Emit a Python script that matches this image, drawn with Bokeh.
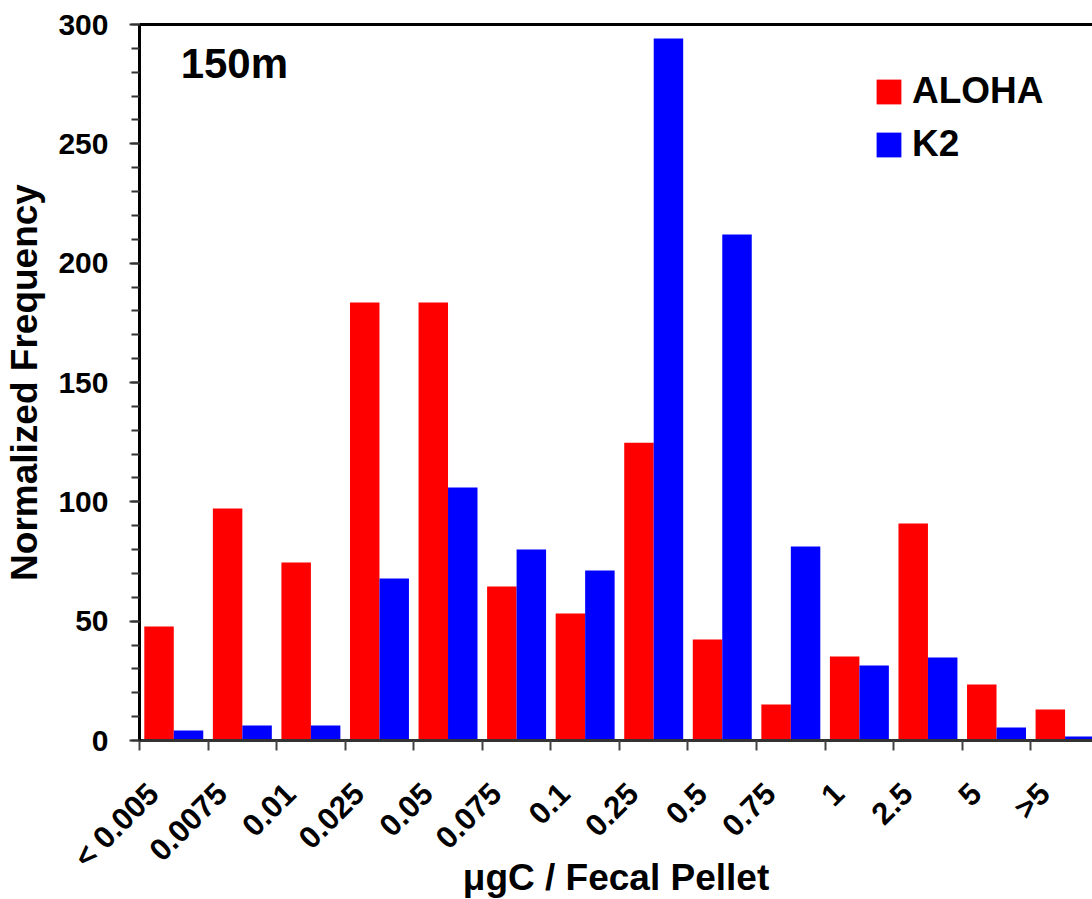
from bokeh.plotting import figure
from bokeh.models import (Range1d, FixedTicker, LinearAxis, Legend, LegendItem,
                          Label, ColumnDataSource)
from bokeh.embed import file_html
from bokeh.resources import INLINE

# ---- data ----
categories = ["< 0.005", "0.0075", "0.01", "0.025", "0.05", "0.075", "0.1",
              "0.25", "0.5", "0.75", "1", "2.5", "5", ">5"]
aloha = [47.8, 97.2, 74.6, 183.5, 183.5, 64.5, 53.2, 124.8, 42.3, 15.1, 35.2, 90.9, 23.5, 13.0]
k2 = [4.2, 6.3, 6.3, 67.9, 106.0, 80.0, 71.2, 294.1, 212.0, 81.3, 31.4, 34.8, 5.4, 1.7]
series_names = ["ALOHA", "K2"]
series_colors = ["#FF0000", "#0000FF"]
y_ticks = [0, 50, 100, 150, 200, 250, 300]
panel_label = "150m"
x_title = "\u03bcgC / Fecal Pellet"
y_title = "Normalized Frequency"

FONT = "Liberation Sans"
n = len(categories)
idx = list(range(n))
bar_w = 0.43
label_shift = 0.30

src = ColumnDataSource(dict(
    xa=[i + 0.5 - bar_w / 2 for i in idx],
    xk=[i + 0.5 + bar_w / 2 for i in idx],
    aloha=aloha, k2=k2,
))

p = figure(frame_width=953, frame_height=716,
           x_range=Range1d(0, 13.9), y_range=Range1d(0, 300),
           output_backend="svg", toolbar_location=None,
           min_border_left=139, min_border_right=0, min_border_top=24,
           min_border_bottom=10)
p.outline_line_color = None
p.grid.visible = False
p.background_fill_color = "white"
p.border_fill_color = "white"

r_a = p.vbar(x="xa", top="aloha", width=bar_w, bottom=0, source=src,
             fill_color=series_colors[0], line_color=None)
r_k = p.vbar(x="xk", top="k2", width=bar_w, bottom=0, source=src,
             fill_color=series_colors[1], line_color=None)

# x axis: labels near category centres, tick marks on category boundaries
xa = p.xaxis[0]
label_pos = [i + 0.5 - label_shift for i in idx]
xa.ticker = FixedTicker(ticks=label_pos, minor_ticks=[float(i) for i in range(n + 1)])
xa.major_label_overrides = {pos: categories[i] for i, pos in enumerate(label_pos)}
xa.major_tick_out = 0
xa.major_tick_in = 0
xa.minor_tick_out = 10
xa.minor_tick_in = 0
xa.minor_tick_line_color = "#444444"
xa.minor_tick_line_width = 2
xa.major_label_orientation = 0.785398
xa.major_label_standoff = 38
xa.major_label_text_font = FONT
xa.major_label_text_font_style = "bold"
xa.major_label_text_font_size = "31px"
xa.major_label_text_color = "black"
xa.axis_line_color = "#333333"
xa.axis_line_width = 3
xa.axis_label = x_title
xa.axis_label_text_font = FONT
xa.axis_label_text_font_style = "bold"
xa.axis_label_text_font_size = "37px"
xa.axis_label_text_color = "black"
xa.axis_label_standoff = -33

ya = p.yaxis[0]
ya.ticker = FixedTicker(ticks=y_ticks, minor_ticks=list(range(0, 301, 10)))
ya.major_tick_out = 10
ya.major_tick_in = 0
ya.minor_tick_out = 8
ya.minor_tick_in = 0
ya.major_tick_line_width = 2
ya.minor_tick_line_width = 2
ya.major_tick_line_color = "#333333"
ya.minor_tick_line_color = "#333333"
ya.axis_line_color = "black"
ya.axis_line_width = 3
ya.major_label_standoff = 21
ya.major_label_text_font = FONT
ya.major_label_text_font_style = "bold"
ya.major_label_text_font_size = "30px"
ya.major_label_text_color = "black"
ya.axis_label = y_title
ya.axis_label_text_font = FONT
ya.axis_label_text_font_style = "bold"
ya.axis_label_text_font_size = "37px"
ya.axis_label_text_color = "black"
ya.axis_label_standoff = 10

top = LinearAxis(ticker=FixedTicker(ticks=[]), axis_line_width=3,
                 axis_line_color="black", major_label_text_font_size="0px",
                 major_tick_out=0, minor_tick_out=0)
p.add_layout(top, "above")

legend = Legend(items=[LegendItem(label=series_names[0], renderers=[r_a]),
                       LegendItem(label=series_names[1], renderers=[r_k])],
                location=(734, 575), orientation="vertical",
                glyph_width=31, glyph_height=31, label_standoff=8,
                label_text_font=FONT, label_text_font_style="bold",
                label_text_font_size="37px", label_text_color="black",
                spacing=11, padding=0, margin=0,
                border_line_color=None, background_fill_alpha=0)
p.add_layout(legend, "center")

p.add_layout(Label(x=0.60, y=283.5, x_units="data", y_units="data",
                   text=panel_label, text_font=FONT, text_font_style="bold",
                   text_font_size="42px", text_color="black",
                   text_baseline="alphabetic"))

open("out.html", "w").write(file_html(p, INLINE))
